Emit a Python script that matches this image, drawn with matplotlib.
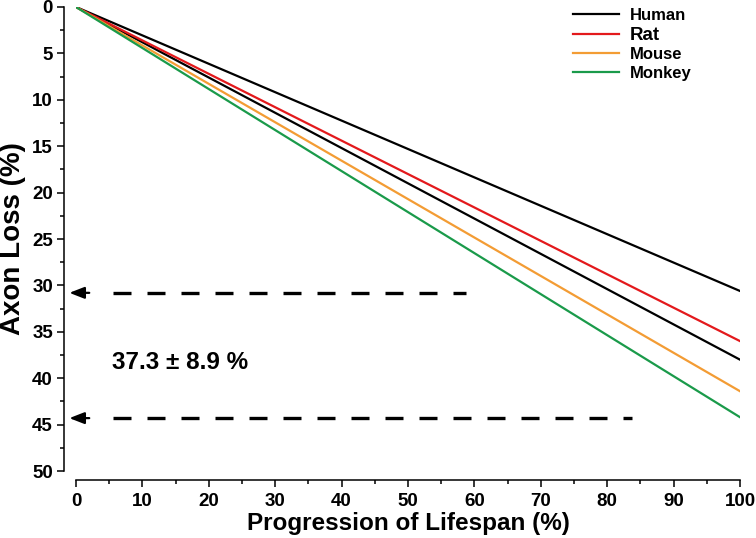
import matplotlib.pyplot as plt
import numpy as np

plt.rcParams['font.family'] = ['Liberation Sans', 'DejaVu Sans']
plt.rcParams['font.weight'] = 'bold'

# datos
lifespan = [0, 100]
species = ["Human", "Human", "Rat", "Mouse", "Monkey"]
loss_end = [30.6, 38.0, 36.0, 41.4, 44.2]
colores = ["black", "black", "#e3191c", "#f39c34", "#1a9a4a"]
arrow_y = [30.8, 44.3]
arrow_x = [58.8, 83.8]
texto = "37.3 ± 8.9 %"

fig = plt.figure(figsize=(7.56, 5.38), dpi=100)
ax = fig.add_axes([0.1005, 0.1245, 0.8783, 0.8625])

shown = set()
for nombre, fin, c in zip(species, loss_end, colores):
    lab = nombre if nombre not in shown else None
    shown.add(nombre)
    ax.plot(lifespan, [0, fin], color=c, lw=1.6, label=lab)

for yv, xv in zip(arrow_y, arrow_x):
    ax.plot([5.6, xv], [yv, yv], color="black", lw=2.4, dashes=(5.4, 4.8))
    ax.annotate("", xy=(-1.0, yv), xytext=(2.0, yv), annotation_clip=False,
                arrowprops=dict(arrowstyle="-|>,head_length=0.9,head_width=0.35",
                                color="black", lw=1.6, shrinkA=0, shrinkB=0))

ax.text(5.5, 38.3, texto, fontsize=17.5, fontweight="bold", va="center")

ax.set_xlim(0, 100)
ax.set_ylim(50, 0)
ax.set_xticks(np.arange(0, 101, 10))
ax.set_xticks(np.arange(0, 101, 5), minor=True)
ax.set_yticks(np.arange(0, 51, 5))
ax.set_yticks(np.arange(0, 51, 2.5), minor=True)

for s in ["top", "right"]:
    ax.spines[s].set_visible(False)
ax.spines["left"].set_position(("outward", 8.6))
ax.spines["bottom"].set_position(("outward", 6.5))
ax.spines["left"].set_linewidth(1.1)
ax.spines["bottom"].set_linewidth(1.1)
ax.tick_params(which="major", length=5, width=1.1, labelsize=13.5)
ax.tick_params(which="minor", length=3, width=1.1)
ax.tick_params(axis="y", pad=3)
ax.tick_params(axis="x", pad=4)

ax.set_xlabel("Progression of Lifespan (%)", fontsize=17.5, fontweight="bold")
ax.set_ylabel("Axon Loss (%)", fontsize=20, fontweight="bold")
ax.xaxis.set_label_coords(0.5, -0.088)
ax.yaxis.set_label_coords(-0.0753, 0.5)

leg = ax.legend(loc="upper left", frameon=False, fontsize=12, handlelength=2.76,
                handletextpad=0.66, borderaxespad=0, borderpad=0, labelspacing=0.22,
                bbox_to_anchor=(573 / 756, 1 - 8 / 538), bbox_transform=fig.transFigure)
leg.get_texts()[1].set_fontsize(13.5)

fig.savefig("out.png", dpi=100)
